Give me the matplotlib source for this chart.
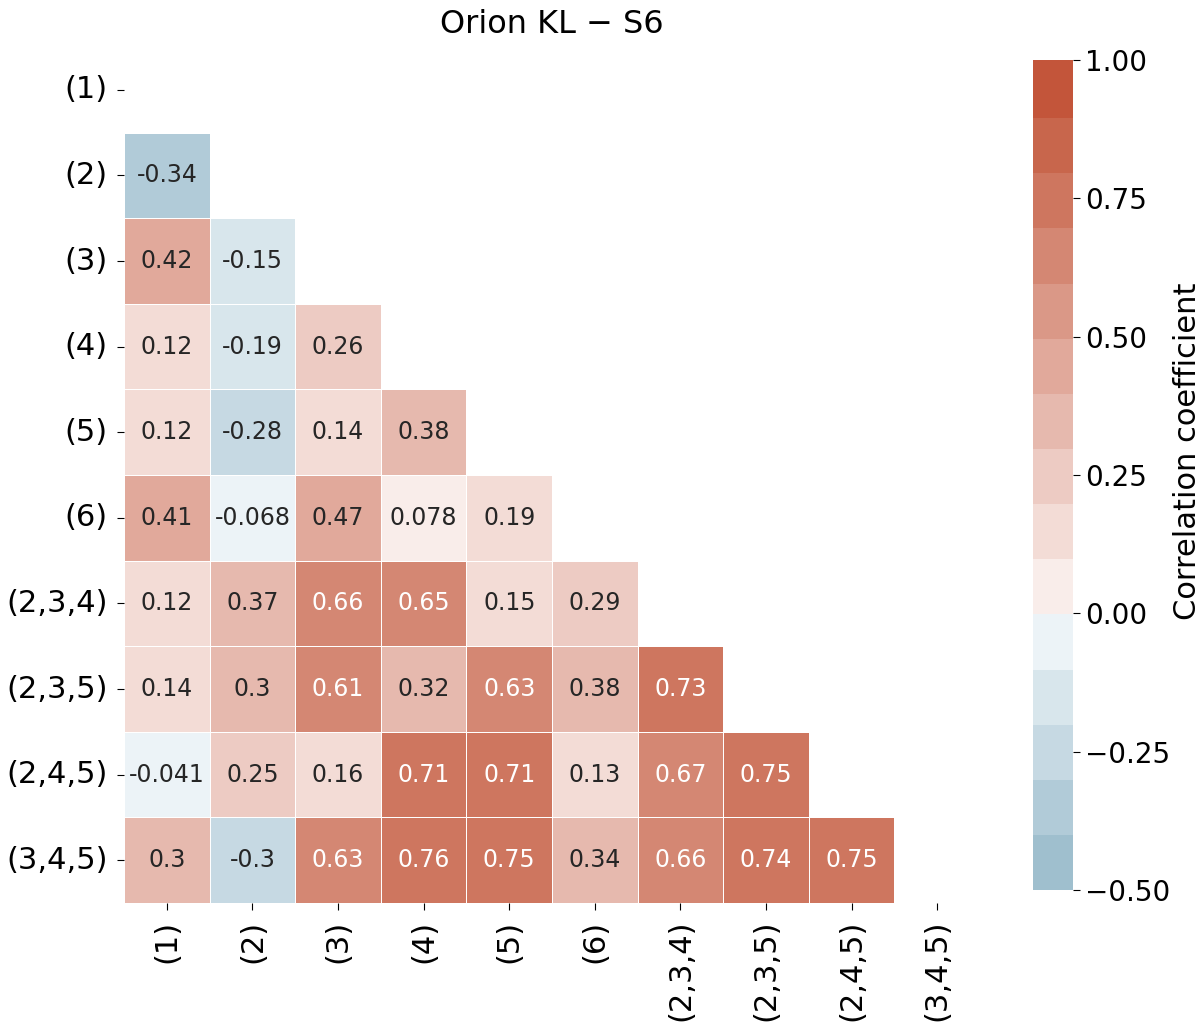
import matplotlib
matplotlib.use("Agg")
import matplotlib.pyplot as plt
import matplotlib.colors as mcolors
import numpy as np
import colorsys
import seaborn as sns
from seaborn.external import husl

labels = ["(1)", "(2)", "(3)", "(4)", "(5)", "(6)", "(2,3,4)", "(2,3,5)", "(2,4,5)", "(3,4,5)"]

# lower triangle, row by row (row i has i values)
lower_rows = [
    [],
    [-0.34],
    [0.42, -0.15],
    [0.12, -0.19, 0.26],
    [0.12, -0.28, 0.14, 0.38],
    [0.41, -0.068, 0.47, 0.078, 0.19],
    [0.12, 0.37, 0.66, 0.65, 0.15, 0.29],
    [0.14, 0.3, 0.61, 0.32, 0.63, 0.38, 0.73],
    [-0.041, 0.25, 0.16, 0.71, 0.71, 0.13, 0.67, 0.75],
    [0.3, -0.3, 0.63, 0.76, 0.75, 0.34, 0.66, 0.74, 0.75],
]
cbar_ticks = [-0.5, -0.25, 0.0, 0.25, 0.5, 0.75, 1.0]

n = len(labels)
corr = np.full((n, n), np.nan)
for i, row in enumerate(lower_rows):
    corr[i, :len(row)] = row
mask = np.triu(np.ones((n, n), dtype=bool))


def old_diverging(h_neg, h_pos, s=75, l=50, sep=10, n_colors=20):
    # the older seaborn diverging palette (more saturated light end)
    def light_pal(h, n_c, reverse=False):
        c = np.clip(husl.husl_to_rgb(h, s, l), 0, 1)
        hh, ll, ss = colorsys.rgb_to_hls(*c)
        light = colorsys.hls_to_rgb(hh, 0.95, ss)
        cols = [c, light] if reverse else [light, c]
        cm = mcolors.LinearSegmentedColormap.from_list("x", cols)
        return cm(np.linspace(0, 1, n_c))
    neg = light_pal(h_neg, 128 - sep // 2, reverse=True)
    pos = light_pal(h_pos, 128 - sep // 2)
    mid = np.array([(.95, .95, .95, 1.)] * sep)
    full = mcolors.LinearSegmentedColormap.from_list("b", np.concatenate([neg, mid, pos]))
    return [tuple(c) for c in full(np.linspace(0, 1, n_colors))]


fig = plt.figure(figsize=(12, 10.3), dpi=100)
ax = fig.add_axes([0.1017, 0.1233, 0.7167, 0.831])
cax = fig.add_axes([0.861, 0.1359, 0.0333, 0.806])

cmap = old_diverging(230, 20, n_colors=20)
sns.heatmap(corr, mask=mask, cmap=cmap, vmin=-0.5, vmax=1.0, center=0,
            annot=True, annot_kws={"size": 17}, linewidths=0.5, linecolor="white",
            square=True, ax=ax, cbar_ax=cax,
            xticklabels=labels, yticklabels=labels,
            cbar_kws={"ticks": cbar_ticks})

ax.set_title("Orion KL − S6", fontsize=23, pad=10)
ax.tick_params(axis="both", labelsize=22, length=5, pad=7)
plt.setp(ax.get_yticklabels(), rotation=0)
plt.setp(ax.get_xticklabels(), rotation=90)

cax.tick_params(labelsize=20, length=5)
cax.set_ylabel("Correlation coefficient", fontsize=22)
cax.yaxis.set_label_coords(3.5, 0.528)

fig.savefig("out.png", dpi=100)
